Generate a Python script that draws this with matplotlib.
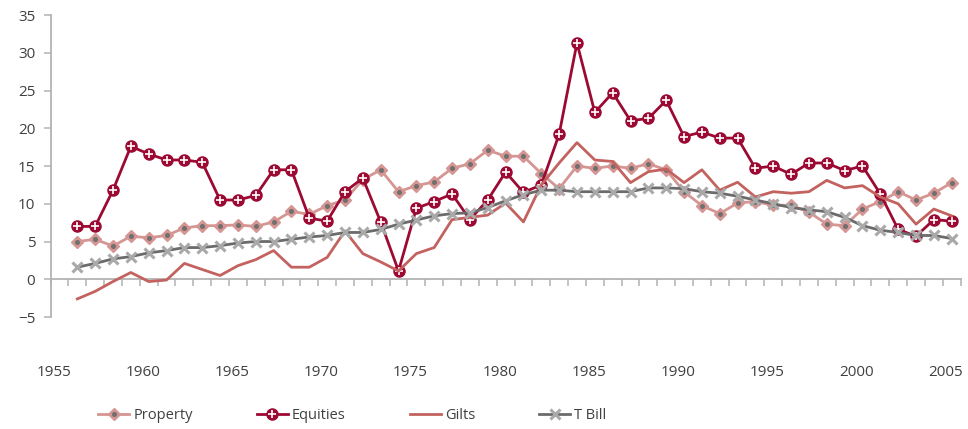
import numpy as np
import matplotlib
matplotlib.use("Agg")
import matplotlib.pyplot as plt
from matplotlib.legend_handler import HandlerTuple

years = list(range(1956, 2006))

property_ret = [5.0, 5.3, 4.4, 5.7, 5.5, 5.8, 6.8, 7.1, 7.1, 7.2,
                7.0, 7.6, 9.0, 8.6, 9.75, 10.5, 13.2, 14.5, 11.6, 12.4,
                12.9, 14.7, 15.3, 17.1, 16.3, 16.3, 14.0, 12.0, 15.0, 14.7,
                15.0, 14.7, 15.3, 14.5, 11.6, 9.75, 8.7, 10.1, 10.3, 9.8,
                9.8, 8.9, 7.3, 7.1, 9.3, 10.3, 11.6, 10.5, 11.4, 12.8]

equities = [7.0, 7.0, 11.8, 17.6, 16.6, 15.8, 15.8, 15.5, 10.5, 10.5,
            11.1, 14.5, 14.5, 8.1, 7.7, 11.6, 13.4, 7.6, 1.1, 9.4,
            10.3, 11.3, 7.9, 10.5, 14.2, 11.5, 12.5, 19.2, 31.3, 22.1,
            24.7, 21.0, 21.3, 23.7, 18.9, 19.5, 18.7, 18.7, 14.7, 15.0,
            13.9, 15.4, 15.4, 14.4, 15.0, 11.3, 6.6, 5.7, 7.9, 7.7]

gilts = [-2.6, -1.6, -0.3, 0.9, -0.3, -0.1, 2.1, 1.3, 0.5, 1.8,
         2.6, 3.8, 1.6, 1.6, 2.9, 6.4, 3.4, 2.3, 1.1, 3.4,
         4.2, 7.9, 8.2, 8.5, 10.1, 7.6, 12.5, 15.4, 18.1, 15.8,
         15.6, 12.8, 14.25, 14.6, 12.8, 14.5, 11.8, 12.85, 10.9, 11.6,
         11.4, 11.6, 13.1, 12.1, 12.4, 10.9, 10.0, 7.3, 9.3, 8.4]

tbill = [1.6, 2.1, 2.7, 3.0, 3.5, 3.8, 4.2, 4.2, 4.45, 4.8,
         5.0, 5.0, 5.3, 5.6, 5.8, 6.2, 6.2, 6.6, 7.3, 7.85,
         8.4, 8.7, 8.8, 9.5, 10.4, 11.2, 11.8, 11.8, 11.6, 11.6,
         11.6, 11.6, 12.1, 12.1, 12.0, 11.6, 11.4, 11.0, 10.5, 10.0,
         9.5, 9.2, 8.95, 8.2, 7.1, 6.5, 6.2, 5.8, 5.8, 5.4]

year_labels = list(range(1955, 2006, 5))

plt.rcParams['font.family'] = ['Open Sans', 'DejaVu Sans']
text_col = '#404040'
axis_col = '#b3b3b3'

fig = plt.figure(figsize=(9.68, 4.29), dpi=100)
ax = fig.add_axes([0.0522, 0.261, 0.9402, 0.704])

# Property: pink diamonds with a grey dot
p1, = ax.plot(years, property_ret, color='#d59592', lw=2.0, marker='D',
              markersize=6.5, markeredgecolor='#d59592', markerfacecolor='#d59592', zorder=3)
p2, = ax.plot(years, property_ret, ls='none', marker='o', markersize=2.6,
              color='#707070', zorder=3.1)

# Equities: dark red circles with white cross
e1, = ax.plot(years, equities, color='#9c0a33', lw=2.0, marker='o',
              markersize=8, zorder=4)
e2, = ax.plot(years, equities, ls='none', marker='+', markersize=5.5,
              markeredgewidth=1.2, color='white', zorder=4.1)

# Gilts: plain line
g1, = ax.plot(years, gilts, color='#c3625f', lw=2.0, zorder=5)

# T Bill: grey line with light x markers
t1, = ax.plot(years, tbill, color='#6b6b6b', lw=2.0, marker='x',
              markersize=7.5, markeredgewidth=2.2, markeredgecolor='#a9a9a9', zorder=6)

ax.set_xlim(1954.5, 2005.5)
ax.set_ylim(-5, 35)
ax.set_yticks(range(-5, 36, 5))

for s in ['top', 'right']:
    ax.spines[s].set_visible(False)
ax.spines['bottom'].set_position(('data', 0))
ax.spines['bottom'].set_color(axis_col)
ax.spines['left'].set_color(axis_col)
ax.spines['bottom'].set_linewidth(1.3)
ax.spines['left'].set_linewidth(1.3)

ax.set_xticks([y - 0.33 for y in year_labels])
ax.set_xticklabels([str(y) for y in year_labels])
ax.set_xticks(np.arange(1954.5, 2006, 1.0), minor=True)
ax.tick_params(axis='x', which='major', length=0, pad=62, labelsize=11, labelcolor=text_col)
ax.tick_params(axis='x', which='minor', length=5, width=1.1, color=axis_col, direction='out')
ax.tick_params(axis='y', length=5, width=1.1, color=axis_col, labelsize=11,
               labelcolor=text_col, pad=6)

leg = fig.legend([(p1, p2), (e1, e2), g1, t1],
                 ['Property', 'Equities', 'Gilts', 'T Bill'],
                 handler_map={tuple: HandlerTuple(ndivide=1, pad=0)},
                 loc='center left', bbox_to_anchor=(0.088, 0.032), ncol=4,
                 frameon=False, fontsize=10.5, handlelength=2.1, handletextpad=0.3,
                 columnspacing=4.4, labelcolor=text_col)

fig.savefig('out.png', dpi=100)
